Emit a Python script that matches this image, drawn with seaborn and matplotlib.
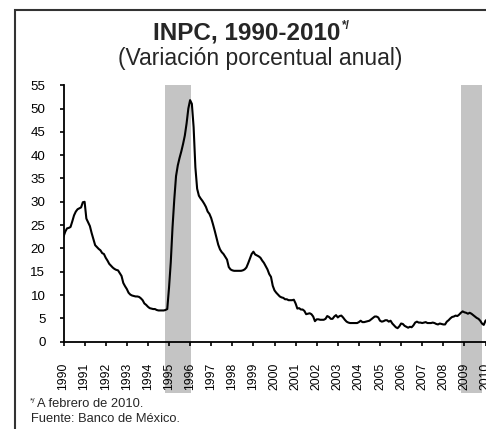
import numpy as np
import matplotlib
matplotlib.use("Agg")
import matplotlib.pyplot as plt
import seaborn as sns

# INPC, variacion porcentual anual, mensual (ene-1990 a feb-2010)
y1990 = [22.5, 23.6, 24.3, 24.4, 24.6, 25.8, 27.1, 27.9, 28.4, 28.6, 28.8, 29.9]
y1991 = [30.0, 26.4, 25.6, 24.8, 23.3, 22.0, 20.7, 20.3, 19.9, 19.6, 19.0, 18.8]
y1992 = [18.0, 17.4, 16.7, 16.3, 15.9, 15.6, 15.4, 15.3, 14.7, 14.1, 12.6, 11.9]
y1993 = [11.3, 10.5, 10.1, 9.9, 9.8, 9.7, 9.7, 9.6, 9.3, 8.9, 8.2, 7.9]
y1994 = [7.5, 7.2, 7.1, 7.0, 7.0, 6.8, 6.7, 6.7, 6.7, 6.7, 6.8, 7.0]
y1995 = [11.5, 17.0, 24.5, 30.5, 35.5, 37.8, 39.4, 40.8, 42.4, 44.2, 46.8, 50.0]
y1996 = [51.8, 51.0, 46.0, 37.4, 32.8, 31.3, 30.7, 30.2, 29.6, 28.9, 27.9, 27.4]
y1997 = [26.5, 25.2, 23.8, 22.3, 20.8, 19.8, 19.2, 18.8, 18.2, 17.6, 16.0, 15.5]
y1998 = [15.3, 15.2, 15.2, 15.2, 15.2, 15.2, 15.3, 15.5, 15.9, 16.8, 17.8, 18.8]
y1999 = [19.3, 18.7, 18.5, 18.3, 18.0, 17.4, 16.9, 16.2, 15.5, 14.5, 13.9, 12.0]
y2000 = [11.0, 10.5, 10.1, 9.7, 9.5, 9.4, 9.1, 9.1, 8.9, 8.9, 8.9, 9.0]
y2001 = [8.2, 7.1, 7.2, 6.9, 6.9, 6.6, 5.9, 6.0, 6.1, 5.9, 5.4, 4.4]
y2002 = [4.8, 4.8, 4.7, 4.7, 4.7, 4.9, 5.5, 5.3, 4.9, 4.9, 5.4, 5.7]
y2003 = [5.2, 5.5, 5.6, 5.2, 4.7, 4.3, 4.1, 4.0, 4.0, 4.0, 4.0, 4.0]
y2004 = [4.2, 4.5, 4.2, 4.2, 4.3, 4.4, 4.5, 4.8, 5.1, 5.4, 5.4, 5.2]
y2005 = [4.5, 4.3, 4.4, 4.6, 4.6, 4.3, 4.5, 3.9, 3.5, 3.1, 2.9, 3.3]
y2006 = [3.9, 3.8, 3.4, 3.2, 3.0, 3.2, 3.1, 3.5, 4.1, 4.3, 4.1, 4.1]
y2007 = [4.0, 4.1, 4.2, 4.0, 4.0, 4.0, 4.1, 4.0, 3.8, 3.7, 3.9, 3.8]
y2008 = [3.7, 3.7, 4.3, 4.6, 5.0, 5.3, 5.4, 5.6, 5.5, 5.8, 6.2, 6.5]
y2009 = [6.3, 6.2, 6.0, 6.2, 6.0, 5.7, 5.4, 5.1, 4.9, 4.5, 3.9, 3.6]
y2010 = [4.5, 4.8]

years = list(range(1990, 2011))
shade_start = [1994.83, 2008.85]
shade_end = [1996.05, 2009.85]

inpc = np.array(y1990 + y1991 + y1992 + y1993 + y1994 + y1995 + y1996 + y1997
                + y1998 + y1999 + y2000 + y2001 + y2002 + y2003 + y2004 + y2005
                + y2006 + y2007 + y2008 + y2009 + y2010)
fecha = 1990 + np.arange(len(inpc)) / 12.0

sns.set_theme(style="ticks")
plt.rcParams["font.family"] = ["Liberation Sans", "DejaVu Sans"]

W, H = 486, 429
fig = plt.figure(figsize=(W / 100, H / 100), dpi=100)

# marco
frame = plt.Rectangle((15 / W, -0.1), 1.2, 1.1 - 10.5 / H, transform=fig.transFigure,
                      fill=False, edgecolor="#333333", linewidth=1.5)
fig.add_artist(frame)

x0, y0, ppy = 63.5, 341.7, 21.1
xmax = 2010.3
ax = fig.add_axes([x0 / W, (H - y0) / H, (xmax - 1990) * ppy / W, 256.5 / H])

for s, e in zip(shade_start, shade_end):
    span = ax.axvspan(s, e, ymin=-0.2, ymax=1.0, color="#c4c4c4", lw=0, zorder=0)
    span.set_clip_on(False)

sns.lineplot(x=fecha, y=inpc, ax=ax, color="black", linewidth=1.5, zorder=3)

ax.set_xlim(1990, xmax)
ax.set_ylim(0, 55)
ax.set_yticks(range(0, 56, 5))
ax.set_xticks(years)
ax.set_xticklabels([str(y) for y in years], rotation=90)
ax.tick_params(axis="y", direction="out", length=3, width=1.2, pad=10,
               labelsize=9.6, colors="black")
ax.tick_params(axis="x", direction="out", length=3, width=1.2, pad=12,
               labelsize=8.8, colors="black")
for lab in ax.get_xticklabels():
    lab.set_va("top")
ax.set_xlabel("")
ax.set_ylabel("")
ax.patch.set_alpha(0)
sns.despine(ax=ax)
for sp in ["left", "bottom"]:
    ax.spines[sp].set_linewidth(1.3)
    ax.spines[sp].set_color("black")

# titulos
t = fig.text(246.5 / W, 1 - 39.3 / H, "INPC, 1990-2010", ha="center", va="baseline",
             fontsize=17.5, fontweight="bold")
ax.annotate("*/", xy=(1, 1), xycoords=t, xytext=(1, 1), textcoords="offset points",
            ha="left", va="top", fontsize=8.5, fontweight="bold", annotation_clip=False)
fig.text(259.7 / W, 1 - 65 / H, "(Variación porcentual anual)", ha="center",
         va="baseline", fontsize=16.5)

# notas
n = fig.text(36.5 / W, 1 - 407 / H, "A febrero de 2010.", ha="left", va="baseline",
             fontsize=9.3)
ax.annotate("*/", xy=(0, 1), xycoords=n, xytext=(-1, 0), textcoords="offset points",
            ha="right", va="top", fontsize=6, annotation_clip=False)
fig.text(30.5 / W, 1 - 422.5 / H, "Fuente: Banco de México.", ha="left",
         va="baseline", fontsize=9.3)

fig.savefig("out.png", dpi=100)
